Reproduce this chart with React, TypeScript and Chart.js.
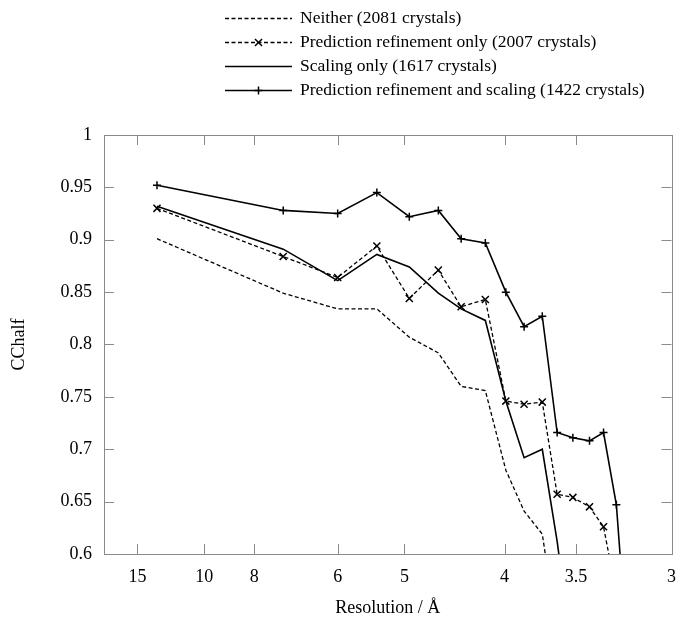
import React, { useEffect, useRef } from 'react';
import { Chart, registerables } from 'chart.js';

Chart.register(...registerables);

// Resolution bins (Å) — plotted linearly in 1/d
const resolution = [13.08, 7.17, 6.0, 5.37, 4.94, 4.61, 4.38, 4.16, 3.99, 3.85, 3.72, 3.62, 3.52, 3.42, 3.34, 3.27, 3.21];

const neither = [0.901, 0.849, 0.834, 0.834, 0.807, 0.792, 0.760, 0.756, 0.680, 0.641, 0.619, 0.525, null, null, null, null, null];
const predictionOnly = [0.930, 0.884, 0.864, 0.894, 0.844, 0.871, 0.836, 0.843, 0.746, 0.743, 0.745, 0.657, 0.654, 0.645, 0.626, 0.562, null];
const scalingOnly = [0.932, 0.891, 0.861, 0.886, 0.874, 0.849, 0.834, 0.823, 0.746, 0.692, 0.700, 0.612, 0.500, null, null, null, null];
const predictionAndScaling = [0.952, 0.928, 0.925, 0.945, 0.922, 0.928, 0.901, 0.897, 0.850, 0.817, 0.827, 0.716, 0.711, 0.708, 0.716, 0.647, 0.500];

const seriesLabels = [
  'Neither (2081 crystals)',
  'Prediction refinement only (2007 crystals)',
  'Scaling only (1617 crystals)',
  'Prediction refinement and scaling (1422 crystals)',
];

const xTickResolutions = [15, 10, 8, 6, 5, 4, 3.5, 3];
const xTickLabels = ['15', '10', '8', '6', '5', '4', '3.5', '3'];
const yTickValues = [0.6, 0.65, 0.7, 0.75, 0.8, 0.85, 0.9, 0.95, 1];
const yTickLabels = ['0.6', '0.65', '0.7', '0.75', '0.8', '0.85', '0.9', '0.95', '1'];

const xTitle = 'Resolution / Å';
const yTitle = 'CChalf';

const FONT = "'Liberation Serif', 'Times New Roman', serif";

function toPoints(values: (number | null)[]) {
  return resolution.map((d, i) => ({ x: 1 / d, y: values[i] }));
}

function drawMarker(ctx: CanvasRenderingContext2D, style: string, x: number, y: number, r: number) {
  ctx.beginPath();
  if (style === 'cross') {
    ctx.moveTo(x - r, y);
    ctx.lineTo(x + r, y);
    ctx.moveTo(x, y - r);
    ctx.lineTo(x, y + r);
  } else if (style === 'crossRot') {
    const k = r * Math.SQRT1_2;
    ctx.moveTo(x - k, y - k);
    ctx.lineTo(x + k, y + k);
    ctx.moveTo(x - k, y + k);
    ctx.lineTo(x + k, y - k);
  }
  ctx.stroke();
}

const framePlugin = {
  id: 'frameTicks',
  afterDatasetsDraw(chart: any) {
    const { ctx, chartArea } = chart;
    const { left, right, top, bottom } = chartArea;
    const xs = chart.scales.x;
    const ys = chart.scales.y;
    const len = 10;
    ctx.save();
    ctx.strokeStyle = '#8a8a8a';
    ctx.lineWidth = 1;
    ctx.setLineDash([]);
    ctx.beginPath();
    xs.ticks.forEach((t: any) => {
      const px = Math.round(xs.getPixelForValue(t.value)) + 0.5;
      ctx.moveTo(px, bottom);
      ctx.lineTo(px, bottom - len);
      ctx.moveTo(px, top);
      ctx.lineTo(px, top + len);
    });
    ys.ticks.forEach((t: any) => {
      const py = Math.round(ys.getPixelForValue(t.value)) + 0.5;
      ctx.moveTo(left, py);
      ctx.lineTo(left + len, py);
      ctx.moveTo(right, py);
      ctx.lineTo(right - len, py);
    });
    ctx.stroke();
    ctx.strokeRect(Math.round(left) + 0.5, Math.round(top) + 0.5, Math.round(right - left), Math.round(bottom - top));
    ctx.restore();
  },
};

const legendPlugin = {
  id: 'rowLegend',
  afterDraw(chart: any) {
    const { ctx } = chart;
    const x0 = 225;
    const x1 = 292;
    const textX = 300;
    const y0 = 18;
    const dy = 24;
    ctx.save();
    chart.data.datasets.forEach((ds: any, i: number) => {
      const y = y0 + i * dy;
      ctx.strokeStyle = ds.borderColor;
      ctx.lineWidth = ds.borderWidth;
      ctx.setLineDash(ds.borderDash || []);
      ctx.beginPath();
      ctx.moveTo(x0, y + 0.5);
      ctx.lineTo(x1, y + 0.5);
      ctx.stroke();
      ctx.setLineDash([]);
      if (ds.pointStyle && ds.pointRadius > 0) {
        ctx.lineWidth = ds.pointBorderWidth;
        drawMarker(ctx, ds.pointStyle, (x0 + x1) / 2, y + 0.5, ds.pointRadius);
      }
      ctx.fillStyle = '#000';
      ctx.font = `17.5px ${FONT}`;
      ctx.textBaseline = 'middle';
      ctx.textAlign = 'left';
      ctx.fillText(ds.label, textX, y);
    });
    ctx.restore();
  },
};

const hiddenTicks = {
  display: true,
  drawOnChartArea: false,
  drawTicks: true,
  tickLength: 12,
  tickColor: 'rgba(0,0,0,0)',
  color: 'rgba(0,0,0,0)',
};

export default function App() {
  const canvasRef = useRef<HTMLCanvasElement | null>(null);

  useEffect(() => {
    if (!canvasRef.current) return;
    const chart = new Chart(canvasRef.current, {
      type: 'line',
      data: {
        datasets: [
          {
            label: seriesLabels[0],
            data: toPoints(neither),
            borderColor: '#000',
            backgroundColor: '#000',
            borderWidth: 1.3,
            borderDash: [4, 2.5],
            pointRadius: 0,
            pointStyle: false as any,
          },
          {
            label: seriesLabels[1],
            data: toPoints(predictionOnly),
            borderColor: '#000',
            backgroundColor: '#000',
            borderWidth: 1.3,
            borderDash: [4, 2.5],
            pointStyle: 'crossRot',
            pointRadius: 5,
            pointBorderWidth: 1.5,
            pointBorderColor: '#000',
          },
          {
            label: seriesLabels[2],
            data: toPoints(scalingOnly),
            borderColor: '#000',
            backgroundColor: '#000',
            borderWidth: 1.6,
            pointRadius: 0,
            pointStyle: false as any,
          },
          {
            label: seriesLabels[3],
            data: toPoints(predictionAndScaling),
            borderColor: '#000',
            backgroundColor: '#000',
            borderWidth: 1.6,
            pointStyle: 'cross',
            pointRadius: 4,
            pointBorderWidth: 1.5,
            pointBorderColor: '#000',
          },
        ],
      },
      options: {
        animation: false,
        responsive: false,
        devicePixelRatio: 1,
        spanGaps: false,
        layout: { padding: { left: 0, right: 0, top: 135, bottom: 0 } },
        plugins: {
          legend: { display: false },
          tooltip: { enabled: false },
        },
        scales: {
          x: {
            type: 'linear',
            min: 0.05,
            max: 1 / 3,
            border: { display: false },
            grid: hiddenTicks,
            afterBuildTicks: (scale: any) => {
              scale.ticks = xTickResolutions.map((d) => ({ value: 1 / d }));
            },
            afterFit: (scale: any) => {
              scale.height = 66;
              scale.paddingRight = 3.5;
            },
            ticks: {
              autoSkip: false,
              maxRotation: 0,
              padding: 0,
              color: '#000',
              font: { family: FONT, size: 18 },
              callback: (_v: any, i: number) => xTickLabels[i],
            },
            title: {
              display: true,
              text: xTitle,
              color: '#000',
              font: { family: FONT, size: 18 },
              padding: { top: 0, bottom: 1 },
            },
          },
          y: {
            type: 'linear',
            min: 0.6,
            max: 1,
            border: { display: false },
            grid: hiddenTicks,
            afterBuildTicks: (scale: any) => {
              scale.ticks = yTickValues.map((v) => ({ value: v }));
            },
            afterFit: (scale: any) => {
              scale.width = 104;
            },
            ticks: {
              autoSkip: false,
              padding: 0,
              color: '#000',
              font: { family: FONT, size: 18 },
              callback: (_v: any, i: number) => yTickLabels[i],
            },
            title: {
              display: true,
              text: yTitle,
              color: '#000',
              font: { family: FONT, size: 18 },
              padding: { top: 8, bottom: 0 },
            },
          },
        },
      },
      plugins: [framePlugin, legendPlugin],
    });
    return () => chart.destroy();
  }, []);

  return (
    <div style={{ position: 'absolute', left: 0, top: 0, width: 678, height: 620, background: '#fff' }}>
      <canvas ref={canvasRef} width={678} height={620} style={{ display: 'block' }} />
    </div>
  );
}
